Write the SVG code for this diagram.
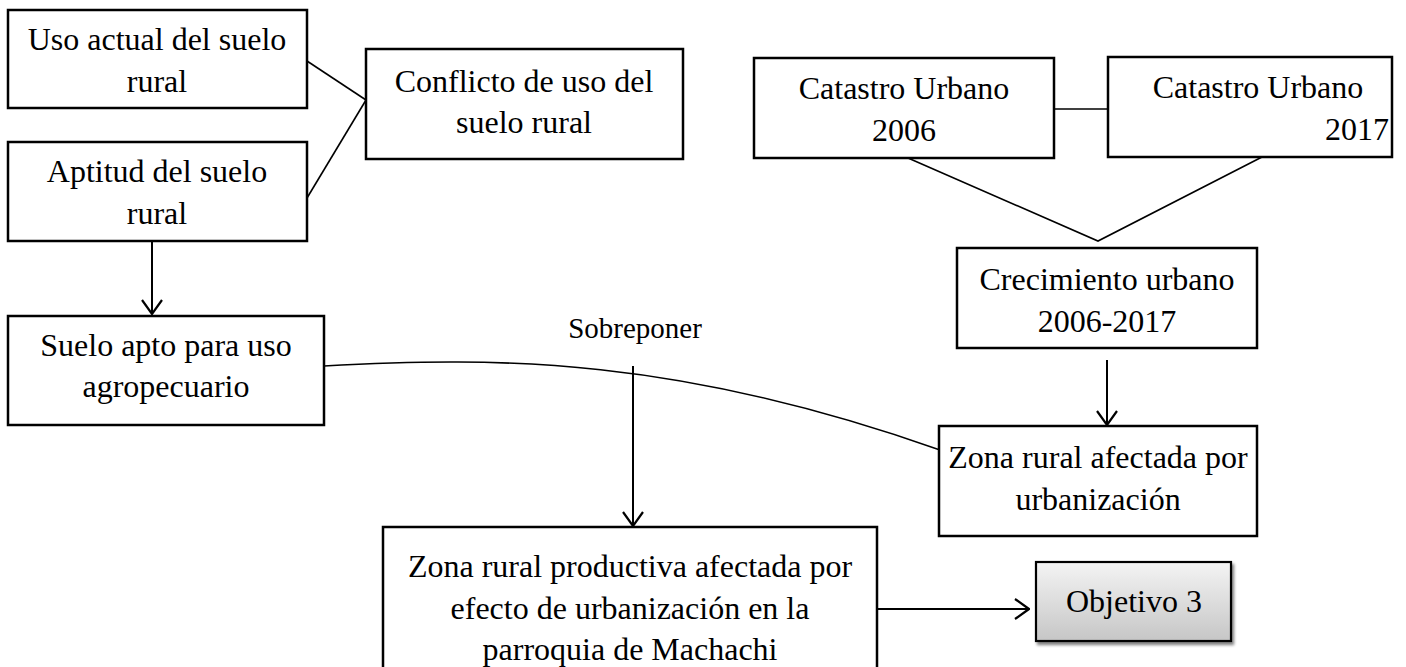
<svg xmlns="http://www.w3.org/2000/svg" width="1406" height="667" viewBox="0 0 1406 667">
  <defs>
    <style>
      .box { fill: #ffffff; stroke: #000000; stroke-width: 2.5; }
      .t { font-family: "Liberation Serif", "Times New Roman", serif; font-size: 32px; fill: #000000; text-anchor: middle; }
      .lbl { font-family: "Liberation Serif", "Times New Roman", serif; font-size: 29px; fill: #000000; text-anchor: middle; }
      .ln { fill: none; stroke: #000000; stroke-width: 1.6; }
      .arr { fill: none; stroke: #000000; stroke-width: 2; }
    </style>
    <marker id="vhead" viewBox="0 0 16 22" refX="15" refY="11" markerWidth="16" markerHeight="22" markerUnits="userSpaceOnUse" orient="auto">
      <path d="M1,1 L15,11 L1,21" fill="none" stroke="#000000" stroke-width="2.2"/>
    </marker>
    <linearGradient id="objGrad" x1="0" y1="0" x2="0" y2="1">
      <stop offset="0" stop-color="#f4f4f4"/>
      <stop offset="1" stop-color="#c6c6c6"/>
    </linearGradient>
    <filter id="shadow" x="-10%" y="-10%" width="130%" height="130%">
      <feGaussianBlur in="SourceAlpha" stdDeviation="1.5"/>
      <feOffset dx="2" dy="3" result="b"/>
      <feComponentTransfer><feFuncA type="linear" slope="0.5"/></feComponentTransfer>
      <feMerge><feMergeNode/><feMergeNode in="SourceGraphic"/></feMerge>
    </filter>
  </defs>

  <rect width="1406" height="667" fill="#ffffff"/>

  <g id="connectors">
    <line class="ln" x1="307" y1="61" x2="366" y2="100"/>
    <line class="ln" x1="307" y1="198" x2="366" y2="100"/>
    <line class="arr" x1="152" y1="241" x2="152" y2="314" marker-end="url(#vhead)"/>
    <line class="ln" x1="1054" y1="109" x2="1108" y2="109"/>
    <polyline class="ln" points="908,158 1098,241 1262,157"/>
    <line class="arr" x1="1107" y1="360" x2="1107" y2="425" marker-end="url(#vhead)"/>
    <path class="ln" d="M324,366 C500,356 680,358 940,450"/>
    <line class="arr" x1="633" y1="366" x2="633" y2="526" marker-end="url(#vhead)"/>
    <line class="arr" x1="877" y1="609" x2="1029" y2="609" marker-end="url(#vhead)"/>
  </g>

  <g id="node-uso-actual">
    <rect class="box" x="8" y="10" width="299" height="98"/>
    <text class="t" x="157" y="50">Uso actual del suelo</text>
    <text class="t" x="157" y="92">rural</text>
  </g>

  <g id="node-aptitud">
    <rect class="box" x="8" y="142" width="299" height="99"/>
    <text class="t" x="157" y="182">Aptitud del suelo</text>
    <text class="t" x="157" y="224">rural</text>
  </g>

  <g id="node-conflicto">
    <rect class="box" x="366" y="49" width="317" height="110"/>
    <text class="t" x="524" y="92">Conflicto de uso del</text>
    <text class="t" x="524" y="133">suelo rural</text>
  </g>

  <g id="node-catastro-2006">
    <rect class="box" x="754" y="58" width="300" height="100"/>
    <text class="t" x="904" y="99">Catastro Urbano</text>
    <text class="t" x="904" y="141">2006</text>
  </g>

  <g id="node-catastro-2017">
    <rect class="box" x="1108" y="57" width="284" height="100"/>
    <text class="t" x="1258" y="98">Catastro Urbano</text>
    <text class="t" x="1357" y="140">2017</text>
  </g>

  <g id="node-crecimiento">
    <rect class="box" x="957" y="248" width="300" height="100"/>
    <text class="t" x="1107" y="290">Crecimiento urbano</text>
    <text class="t" x="1107" y="332">2006-2017</text>
  </g>

  <g id="node-suelo-apto">
    <rect class="box" x="8" y="316" width="316" height="109"/>
    <text class="t" x="166" y="356">Suelo apto para uso</text>
    <text class="t" x="166" y="397">agropecuario</text>
  </g>

  <g id="label-sobreponer">
    <text class="lbl" x="635" y="338">Sobreponer</text>
  </g>

  <g id="node-zona-afectada">
    <rect class="box" x="939" y="426" width="318" height="110"/>
    <text class="t" x="1098" y="468">Zona rural afectada por</text>
    <text class="t" x="1098" y="510">urbanización</text>
  </g>

  <g id="node-zona-productiva">
    <rect class="box" x="383" y="527" width="494" height="150"/>
    <text class="t" x="630" y="577">Zona rural productiva afectada por</text>
    <text class="t" x="630" y="619">efecto de urbanización en la</text>
    <text class="t" x="630" y="660">parroquia de Machachi</text>
  </g>

  <g id="node-objetivo">
    <rect x="1036" y="562" width="195" height="79" fill="url(#objGrad)" stroke="#000000" stroke-width="2.2" filter="url(#shadow)"/>
    <text class="t" x="1134" y="612">Objetivo 3</text>
  </g>
</svg>
